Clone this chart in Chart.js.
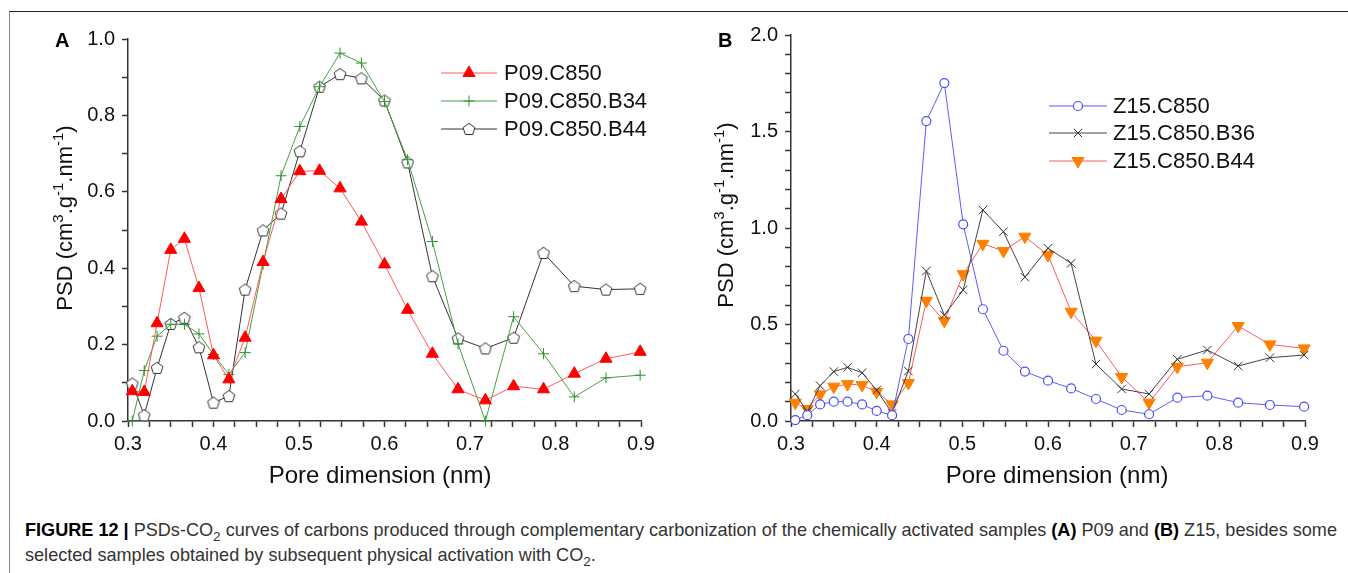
<!DOCTYPE html>
<html>
<head>
<meta charset="utf-8">
<script src="https://cdn.jsdelivr.net/npm/chart.js@4.4.1/dist/chart.umd.min.js"></script>
<style>
html, body { margin: 0; padding: 0; background: #fff; }
body { width: 1348px; height: 573px; position: relative; overflow: hidden; font-family: "Liberation Sans", Arial, sans-serif; }
#frame { position: absolute; left: 9px; top: 11px; width: 1345px; height: 570px; border-top: 1.5px solid #222; border-left: 1.5px solid #888; }
#wrapA { position: absolute; left: 0; top: 0; }
#wrapB { position: absolute; left: 670px; top: 0; }
#caption { position: absolute; left: 25px; top: 518px; font-size: 18.1px; line-height: 25px; color: #333; white-space: nowrap; }
#caption b { color: #000; }
#caption sub { font-size: 0.75em; line-height: 0; }
</style>
</head>
<body>
<div id="frame"></div>
<div id="wrapA"><canvas id="chartA" width="670" height="500"></canvas></div>
<div id="wrapB"><canvas id="chartB" width="678" height="500"></canvas></div>
<div id="caption"><b>FIGURE 12 |</b> PSDs-CO<sub>2</sub> curves of carbons produced through complementary carbonization of the chemically activated samples <b>(A)</b> P09 and <b>(B)</b> Z15, besides some<br>selected samples obtained by subsequent physical activation with CO<sub>2</sub>.</div>

<script>
// pore dimension (nm), same grid for both panels
const poreSize = [0.305, 0.319, 0.334, 0.350, 0.366, 0.383, 0.400, 0.418, 0.437, 0.458, 0.479, 0.501, 0.524,
                  0.548, 0.573, 0.600, 0.627, 0.656, 0.686, 0.718, 0.751, 0.786, 0.822, 0.859, 0.899];

// panel A
const p09C850    = [0.078, 0.076, 0.256, 0.448, 0.477, 0.348, 0.172, 0.109, 0.218, 0.416, 0.581, 0.654, 0.655,
                    0.609, 0.522, 0.410, 0.291, 0.176, 0.083, 0.054, 0.091, 0.083, 0.124, 0.163, 0.181];
const p09C850B34 = [0.000, 0.132, 0.222, 0.253, 0.253, 0.228, 0.174, 0.122, 0.179, 0.410, 0.642, 0.771, 0.875,
                    0.963, 0.937, 0.836, 0.684, 0.470, 0.202, 0.000, 0.273, 0.176, 0.063, 0.113, 0.120];
const p09C850B44 = [0.098, 0.015, 0.139, 0.254, 0.270, 0.193, 0.048, 0.065, 0.344, 0.499, 0.543, 0.706, 0.875,
                    0.908, 0.897, 0.839, 0.677, 0.379, 0.216, 0.190, 0.218, 0.440, 0.353, 0.344, 0.346];

// panel B
const z15C850    = [0.005, 0.030, 0.086, 0.100, 0.100, 0.086, 0.052, 0.030, 0.425, 1.554, 1.751, 1.019, 0.579,
                    0.364, 0.256, 0.209, 0.169, 0.114, 0.057, 0.035, 0.121, 0.131, 0.095, 0.083, 0.074];
const z15C850B36 = [0.140, 0.048, 0.183, 0.256, 0.278, 0.250, 0.160, 0.040, 0.259, 0.777, 0.549, 0.679, 1.093,
                    0.981, 0.745, 0.895, 0.817, 0.295, 0.166, 0.140, 0.320, 0.368, 0.285, 0.328, 0.342];
const z15C850B44 = [0.095, 0.062, 0.138, 0.178, 0.191, 0.186, 0.151, 0.086, 0.197, 0.623, 0.519, 0.761, 0.918,
                    0.881, 0.955, 0.860, 0.566, 0.416, 0.228, 0.095, 0.281, 0.302, 0.492, 0.397, 0.376];

const labelsA = ['P09.C850', 'P09.C850.B34', 'P09.C850.B44'];
const labelsB = ['Z15.C850', 'Z15.C850.B36', 'Z15.C850.B44'];

const FONT = '"Liberation Sans", Arial, sans-serif';

function pts(ys) {
    return poreSize.map((x, i) => ({ x: x, y: ys[i] }));
}

// open pentagon marker (no built-in pointStyle for it)
function makePentagon() {
    const c = document.createElement('canvas');
    c.width = 16; c.height = 16;
    const g = c.getContext('2d');
    g.beginPath();
    for (let k = 0; k < 5; k++) {
        const a = -Math.PI / 2 + k * 2 * Math.PI / 5;
        const px = 8 + Math.cos(a) * 6.2, py = 8.5 + Math.sin(a) * 6.2;
        if (k === 0) g.moveTo(px, py); else g.lineTo(px, py);
    }
    g.closePath();
    g.fillStyle = '#fff';
    g.fill();
    g.strokeStyle = '#333';
    g.lineWidth = 1;
    g.stroke();
    return c;
}
const pentagon = makePentagon();

// panel letter, axis titles and inset legend
const decorPlugin = {
    id: 'decor',
    afterDraw(chart, args, o) {
        const ctx = chart.ctx;
        ctx.save();
        ctx.fillStyle = '#000';
        ctx.textBaseline = 'alphabetic';
        ctx.font = 'bold 20px ' + FONT;
        ctx.textAlign = 'left';
        ctx.fillText(o.letter, o.letterX, o.letterY);

        // x title
        ctx.font = '24px ' + FONT;
        ctx.textAlign = 'center';
        ctx.fillStyle = '#111';
        ctx.fillText('Pore dimension (nm)', o.xTitleX, o.xTitleY);

        // y title with superscripts
        const parts = [['PSD (cm', 0], ['3', 1], ['.g', 0], ['-1', 1], ['.nm', 0], ['-1', 1], [')', 0]];
        const big = '22px ' + FONT, small = '15px ' + FONT;
        let total = 0;
        parts.forEach(p => { ctx.font = p[1] ? small : big; total += ctx.measureText(p[0]).width; });
        ctx.translate(o.yTitleX, o.yTitleY);
        ctx.rotate(-Math.PI / 2);
        ctx.textAlign = 'left';
        let cx = -total / 2;
        parts.forEach(p => {
            ctx.font = p[1] ? small : big;
            ctx.fillText(p[0], cx, p[1] ? -9 : 0);
            cx += ctx.measureText(p[0]).width;
        });
        ctx.setTransform(1, 0, 0, 1, 0, 0);

        // legend
        const lg = o.legend;
        chart.data.datasets.forEach((ds, i) => {
            const y = lg.rows[i];
            ctx.strokeStyle = ds.borderColor;
            ctx.lineWidth = 1.2;
            ctx.beginPath();
            ctx.moveTo(lg.x0, y);
            ctx.lineTo(lg.x1, y);
            ctx.stroke();
            ctx.fillStyle = ds.pointBackgroundColor;
            ctx.strokeStyle = ds.pointBorderColor;
            ctx.lineWidth = ds.pointBorderWidth;
            Chart.helpers.drawPoint(ctx, {
                pointStyle: ds.pointStyle, radius: ds.pointRadius,
                rotation: ds.pointRotation || 0, borderWidth: ds.pointBorderWidth
            }, (lg.x0 + lg.x1) / 2, y);
            ctx.fillStyle = '#111';
            ctx.font = '22px ' + FONT;
            ctx.textAlign = 'left';
            ctx.textBaseline = 'middle';
            ctx.fillText(ds.label, lg.tx, y + 1);
        });
        ctx.restore();
    }
};

function tickOpts(step, every, size) {
    return {
        stepSize: step,
        autoSkip: false,
        maxRotation: 0,
        color: '#111',
        font: { family: FONT, size: size },
        callback: v => Math.abs(v / every - Math.round(v / every)) < 1e-6 ? v.toFixed(1) : ''
    };
}

function makeChart(id, datasets, cfg) {
    return new Chart(document.getElementById(id), {
        type: 'line',
        data: { datasets: datasets },
        plugins: [decorPlugin],
        options: {
            responsive: false,
            animation: false,
            events: [],
            layout: { padding: { left: 0, top: cfg.top, right: cfg.right, bottom: 0 } },
            plugins: { legend: { display: false }, tooltip: { enabled: false }, decor: cfg.decor },
            scales: {
                x: {
                    type: 'linear', min: 0.3, max: 0.9,
                    afterFit: s => { s.height = 79; s.paddingLeft = 0; s.paddingRight = 0; },
                    ticks: Object.assign(tickOpts(0.025, 0.1, 20), { padding: 5 }),
                    grid: { drawOnChartArea: false, drawTicks: true, tickLength: 6, color: '#333', tickWidth: 1.5 },
                    border: { display: true, color: '#333', width: 1.5 }
                },
                y: {
                    type: 'linear', min: 0, max: cfg.yMax,
                    afterFit: s => { s.width = cfg.yWidth; s.paddingTop = 0; s.paddingBottom = 0; },
                    ticks: Object.assign(tickOpts(0.1, cfg.yEvery, 20), { padding: 7 }),
                    grid: { drawOnChartArea: false, drawTicks: true, tickLength: 6, color: '#333', tickWidth: 1.5 },
                    border: { display: true, color: '#333', width: 1.5 }
                }
            }
        }
    });
}

function series(label, ys, line, style, radius, fill, stroke, extra) {
    return Object.assign({
        label: label,
        data: pts(ys),
        borderColor: line,
        borderWidth: 1,
        tension: 0,
        clip: false,
        pointStyle: style,
        pointRadius: radius,
        pointBackgroundColor: fill,
        pointBorderColor: stroke,
        pointBorderWidth: 1
    }, extra || {});
}

makeChart('chartA', [
    series(labelsA[0], p09C850, '#ff5a5a', 'triangle', 7, '#ff0000', '#ff0000'),
    series(labelsA[1], p09C850B34, '#45a045', 'cross', 5.5, '#2f8f2f', '#2f8f2f'),
    series(labelsA[2], p09C850B44, '#333333', pentagon, 6, '#ffffff', '#333333')
], {
    top: 39, right: 29, yMax: 1.0, yEvery: 0.2, yWidth: 128,
    decor: {
        letter: 'A', letterX: 55, letterY: 47,
        xTitleX: 380, xTitleY: 483,
        yTitleX: 72, yTitleY: 218,
        legend: { x0: 441, x1: 497, tx: 504, rows: [73, 101, 129] }
    }
});

makeChart('chartB', [
    series(labelsB[0], z15C850, '#5c5cff', 'circle', 4.5, '#ffffff', '#4c4cff', { pointBorderWidth: 1.2 }),
    series(labelsB[1], z15C850B36, '#444444', 'crossRot', 6, '#333333', '#333333'),
    series(labelsB[2], z15C850B44, '#ff5a5a', 'triangle', 7, '#ff8000', '#ff8000', { pointRotation: 180 })
], {
    top: 35, right: 43, yMax: 2.0, yEvery: 0.5, yWidth: 121,
    decor: {
        letter: 'B', letterX: 48, letterY: 47,
        xTitleX: 387, xTitleY: 483,
        yTitleX: 63, yTitleY: 215,
        legend: { x0: 379, x1: 437, tx: 443, rows: [106, 133, 161] }
    }
});
</script>
</body>
</html>
